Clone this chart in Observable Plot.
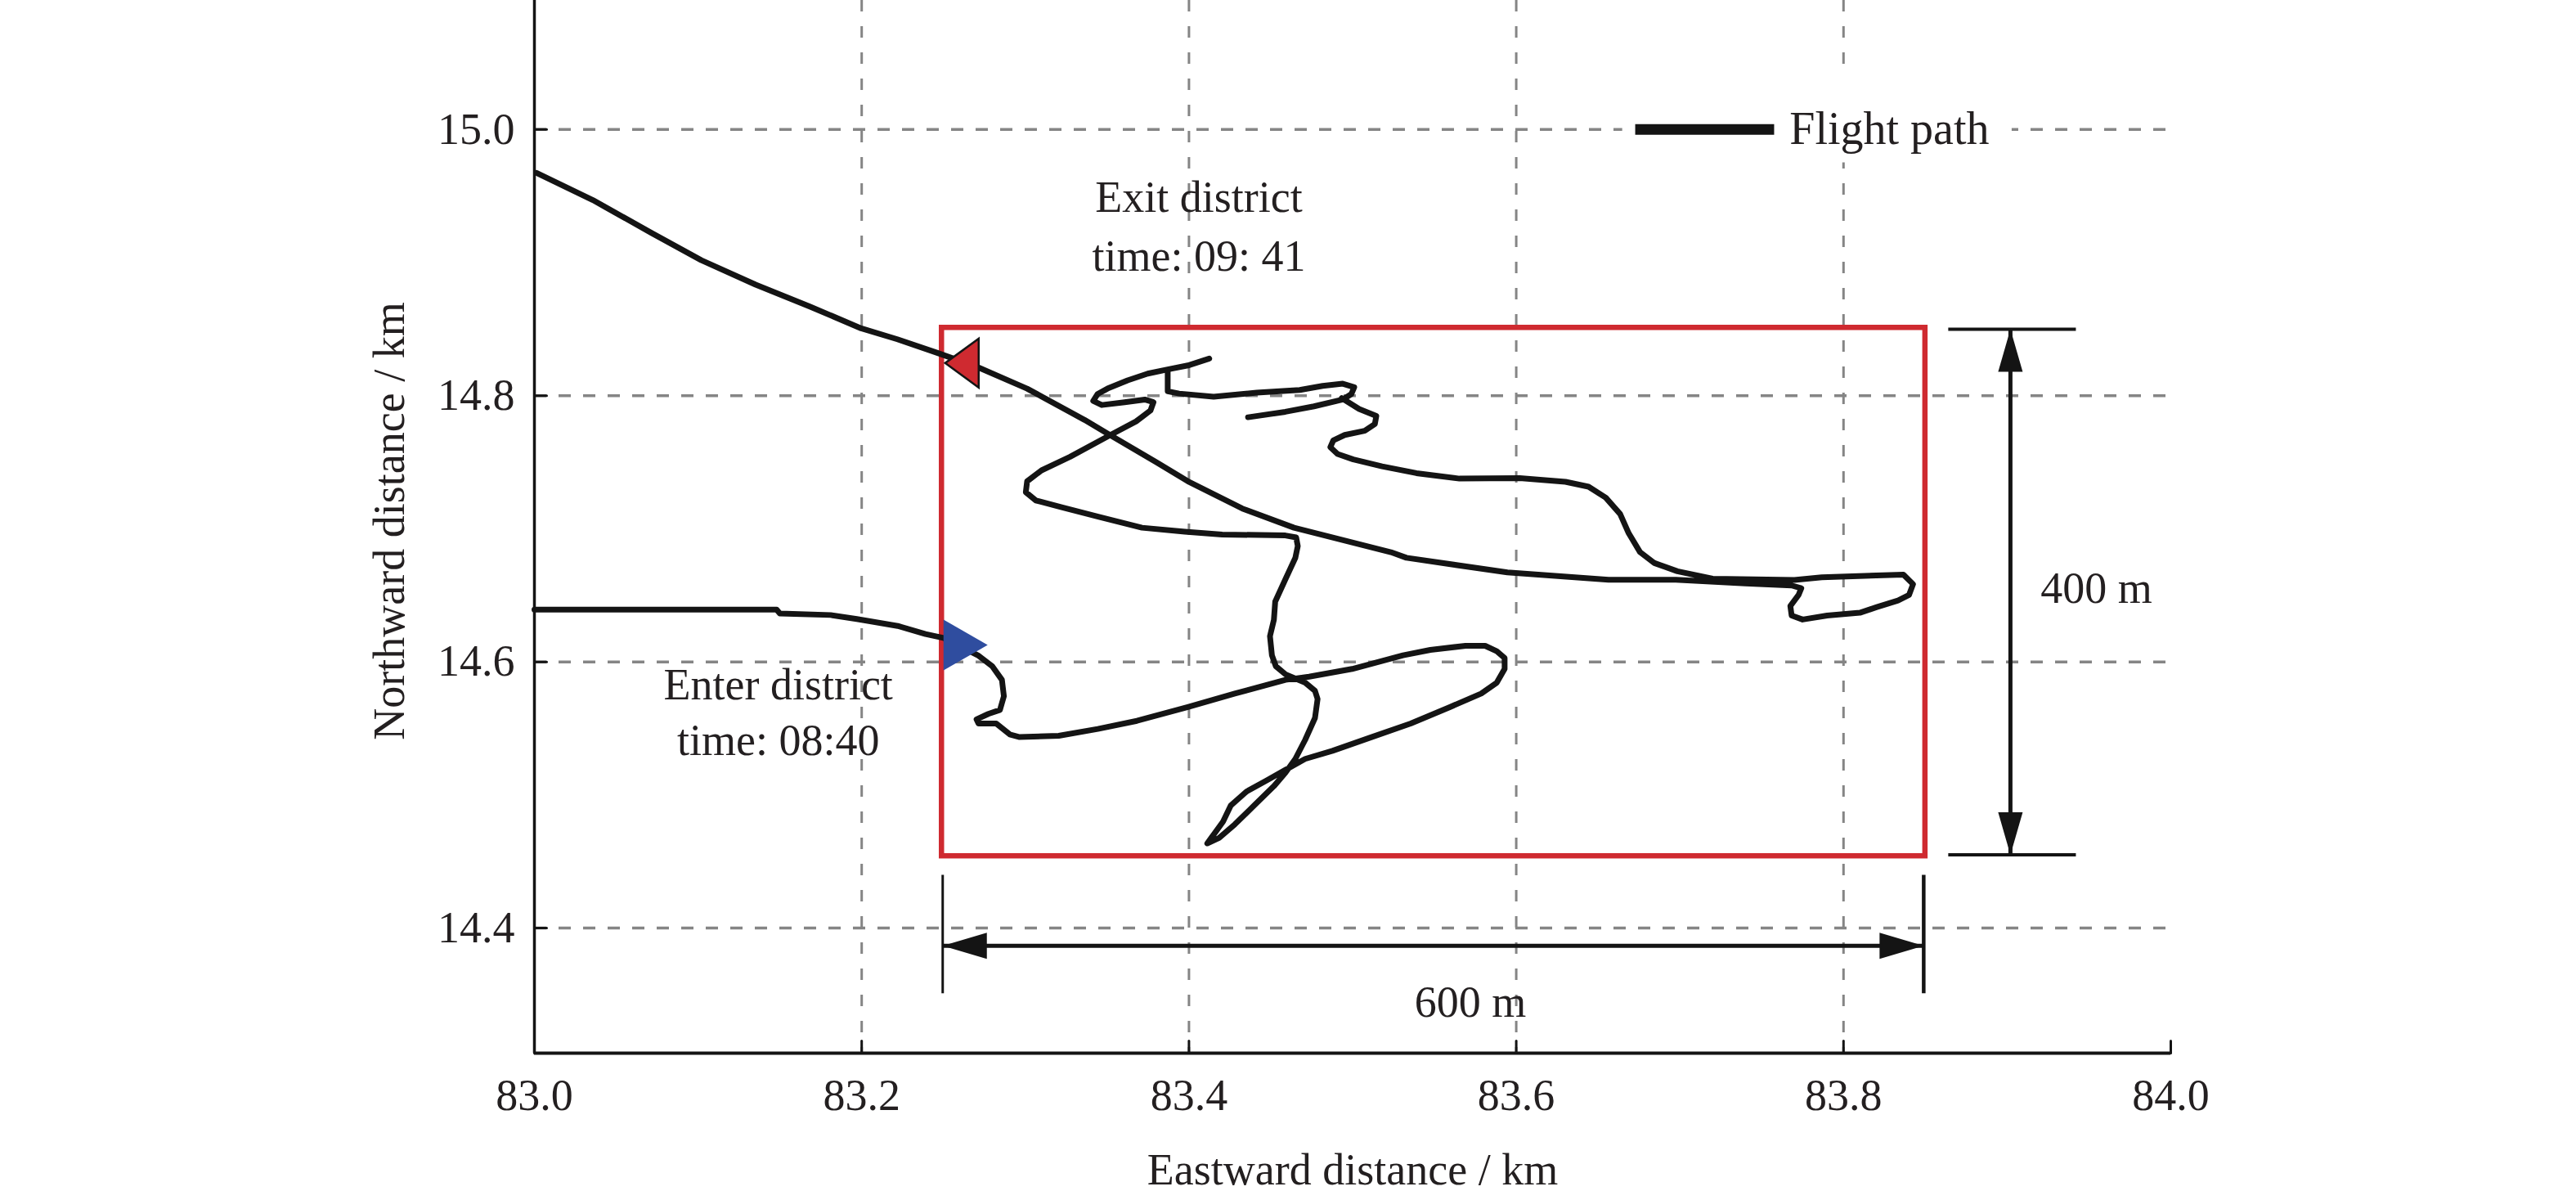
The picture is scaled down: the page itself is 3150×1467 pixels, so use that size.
<!DOCTYPE html>
<html>
<head>
<meta charset="utf-8">
<script src="https://cdn.jsdelivr.net/npm/d3@7"></script>
<script src="https://cdn.jsdelivr.net/npm/@observablehq/plot@0.6"></script>
<style>
  html, body { margin: 0; padding: 0; background: #fff; }
  #chart { width: 3150px; height: 1467px; }
</style>
</head>
<body>
<div id="chart"></div>
<script>
// ---- axes ----
const xDomain = [83.0, 84.0];
const yDomain = [14.306, 15.097];
const xTicks = [83.0, 83.2, 83.4, 83.6, 83.8, 84.0];
const yTicks = [14.4, 14.6, 14.8, 15.0];
const xGrid = [83.2, 83.4, 83.6, 83.8];
const xLabel = "Eastward distance / km";
const yLabel = "Northward distance / km";

// ---- flight path (km east, km north) ----
const pathEnter = [
  [83.000,14.6393],[83.148,14.6393],[83.150,14.6363],[83.181,14.6352],[83.197,14.6322],
  [83.222,14.6270],[83.239,14.6209],[83.250,14.6180],[83.271,14.6050],[83.2798,14.5967],
  [83.2857,14.5865],[83.2869,14.5742],[83.2845,14.5639],[83.2774,14.5609],[83.2702,14.5568],
  [83.2714,14.5537],[83.2822,14.5537],[83.2905,14.5455],[83.2965,14.5435],[83.3204,14.5445],
  [83.3443,14.5496],[83.3682,14.5557],[83.3993,14.5660],[83.4280,14.5762],[83.4590,14.5865],
  [83.4734,14.5889],[83.4997,14.5947],[83.5308,14.6049],[83.5475,14.6090],[83.5690,14.6121],
  [83.5810,14.6121],[83.5881,14.6080],[83.5929,14.6029],[83.5929,14.5947],[83.5881,14.5844],
  [83.5786,14.5762],[83.5594,14.5660],[83.5355,14.5537],[83.5116,14.5435],[83.4877,14.5332],
  [83.4710,14.5271],[83.4590,14.5189],[83.4471,14.5107],[83.4351,14.5025],[83.4256,14.4922],
  [83.4208,14.4799],[83.4136,14.4677],[83.4112,14.4636],[83.4184,14.4677],[83.4280,14.4779],
  [83.4399,14.4922],[83.4519,14.5066],[83.4590,14.5168],[83.4650,14.5271],[83.4710,14.5414],
  [83.4770,14.5578],[83.4786,14.5721],[83.4770,14.5783],[83.4710,14.5844],[83.4590,14.5906],
  [83.4531,14.5967],[83.4507,14.6049],[83.4495,14.6193],[83.4519,14.6316],[83.4527,14.6453],
  [83.4588,14.6617],[83.4650,14.6782],[83.4665,14.6870],[83.4655,14.6935],[83.4589,14.6950],
  [83.4203,14.6957],[83.3975,14.6978],[83.3713,14.7008],[83.3450,14.7090],[83.3222,14.7162],
  [83.3064,14.7213],[83.3003,14.7275],[83.3011,14.7357],[83.3099,14.7439],[83.3274,14.7541],
  [83.3520,14.7705],[83.3677,14.7807],[83.3765,14.7889],[83.3783,14.7951],[83.3730,14.7971],
  [83.3607,14.7951],[83.3467,14.7930],[83.3415,14.7961],[83.3441,14.8012],[83.3502,14.8053],
  [83.3625,14.8115],[83.3748,14.8166],[83.3870,14.8197],[83.3993,14.8227],[83.4124,14.8279]
];
const pathBranch = [
  [83.3870,14.8190],[83.3870,14.8033],[83.3940,14.8016],[83.4151,14.7992],[83.4414,14.8023],
  [83.4677,14.8043],[83.4817,14.8074],[83.4940,14.8090],[83.5010,14.8064],[83.4992,14.8012],
  [83.4940,14.7971],[83.4764,14.7920],[83.4589,14.7879],[83.4361,14.7838]
];
const pathExit = [
  [83.4934,14.7982],[83.5040,14.7900],[83.5145,14.7848],[83.5136,14.7787],[83.5074,14.7736],
  [83.4952,14.7705],[83.4882,14.7664],[83.4864,14.7613],[83.4908,14.7562],[83.5004,14.7521],
  [83.5180,14.7469],[83.5390,14.7418],[83.5653,14.7377],[83.6021,14.7381],[83.6301,14.7353],
  [83.6442,14.7316],[83.6547,14.7234],[83.6635,14.7111],[83.6687,14.6967],[83.6757,14.6824],
  [83.6845,14.6742],[83.6985,14.6681],[83.7200,14.6625],[83.7700,14.6615],[83.7867,14.6635],
  [83.8366,14.6656],[83.8425,14.6584],[83.8400,14.6502],[83.8333,14.6461],[83.8200,14.6410],
  [83.8100,14.6369],[83.7900,14.6348],[83.7750,14.6318],[83.7683,14.6348],[83.7675,14.6420],
  [83.7725,14.6502],[83.7742,14.6553],[83.7683,14.6574],[83.7400,14.6590],[83.6975,14.6617],
  [83.6564,14.6617],[83.5946,14.6672],[83.5329,14.6782],[83.5234,14.6824],[83.4642,14.7008],
  [83.4326,14.7152],[83.3993,14.7357],[83.3800,14.7500],[83.3502,14.7715],[83.3362,14.7818],
  [83.3011,14.8053],[83.2705,14.8217],[83.2462,14.8322],[83.2218,14.8424],[83.1997,14.8506],
  [83.1683,14.8670],[83.1352,14.8834],[83.1020,14.9018],[83.0714,14.9224],[83.0357,14.9470],
  [83.0013,14.9674]
];

// ---- district box and markers ----
const districtBox = [{x1: 83.249, x2: 83.850, y1: 14.454, y2: 14.851}];
const enterMarker = [{x: 83.250, y: 14.6127}];
const exitMarker = [{x: 83.251, y: 14.8245}];

// ---- dimension annotations ----
const dimHeight = [{x: 83.902, y1: 14.850, y2: 14.455, tx1: 83.864, tx2: 83.942}];
const dimWidth = [{y: 14.3866, x1: 83.2495, x2: 83.849, ty1: 14.440, ty2: 14.351}];

// ---- texts ----
const exitNote = [{x: 83.406, y: 14.9300, label: "Exit district\ntime: 09: 41"}];
const enterNote = [{x: 83.149, y: 14.5643, label: "Enter district\ntime: 08:40"}];
const sizeNotes = [
  {x: 83.9545, y: 14.655, label: "400 m"},
  {x: 83.572, y: 14.3442, label: "600 m"}
];
const legend = [{x1: 83.6727, x2: 83.7576, tx: 83.767, y: 15.0, label: "Flight path",
                 bx1: 83.665, bx2: 83.903, by1: 14.975, by2: 15.038}];

// ---- build tables ----
const flight = [
  ...pathEnter.map(([x, y]) => ({x, y, seg: "enter"})),
  ...pathBranch.map(([x, y]) => ({x, y, seg: "branch"})),
  ...pathExit.map(([x, y]) => ({x, y, seg: "exit"}))
];

// ---- custom shapes ----
const tickShape = {draw(ctx, l) { ctx.moveTo(0, 0); ctx.lineTo(0, -l); }};
function triRight(w, h) {
  return {draw(ctx) { ctx.moveTo(0, -h / 2); ctx.lineTo(w, 0); ctx.lineTo(0, h / 2); ctx.closePath(); }};
}
function triLeftTip(w, h) {
  return {draw(ctx) { ctx.moveTo(0, 0); ctx.lineTo(w, -h / 2); ctx.lineTo(w, h / 2); ctx.closePath(); }};
}
function head(dir, len, wid) {
  const p = {
    up: [[0, 0], [wid / 2, len], [-wid / 2, len]],
    down: [[0, 0], [wid / 2, -len], [-wid / 2, -len]],
    left: [[0, 0], [len, -wid / 2], [len, wid / 2]],
    right: [[0, 0], [-len, -wid / 2], [-len, wid / 2]]
  }[dir];
  return {draw(ctx) { ctx.moveTo(...p[0]); ctx.lineTo(...p[1]); ctx.lineTo(...p[2]); ctx.closePath(); }};
}

const ink = "#141414";
const grey = "#858585";
const red = "#cf2a30";
const blue = "#2f4d9f";
const fmt = d => d.toFixed(1);

const chart = Plot.plot({
  width: 3150,
  height: 1467,
  marginLeft: 653,
  marginRight: 496,
  marginTop: 0,
  marginBottom: 180,
  x: {domain: xDomain},
  y: {domain: yDomain},
  style: {fontFamily: "'Liberation Serif', 'Times New Roman', serif", fontSize: "54px", color: "#231f20", background: "#fff"},
  marks: [
    // grid
    Plot.ruleY(yTicks, {x1: xDomain[0], x2: xDomain[1], stroke: grey, strokeWidth: 3.5, strokeDasharray: "15,15"}),
    Plot.ruleX(xGrid, {stroke: grey, strokeWidth: 3, strokeDasharray: "14,18"}),
    // legend background
    Plot.rect(legend, {x1: "bx1", x2: "bx2", y1: "by1", y2: "by2", fill: "#fff"}),
    // district box
    Plot.rect(districtBox, {x1: "x1", x2: "x2", y1: "y1", y2: "y2", fill: "none", stroke: red, strokeWidth: 6.5}),
    // flight path
    Plot.line(flight, {x: "x", y: "y", z: "seg", stroke: ink, strokeWidth: 7, strokeLinejoin: "round", strokeLinecap: "round"}),
    // enter / exit markers
    Plot.dot(enterMarker, {x: "x", y: "y", symbol: triRight(54, 62), fill: blue, stroke: "none"}),
    Plot.dot(exitMarker, {x: "x", y: "y", symbol: triLeftTip(41, 60), fill: red, stroke: ink, strokeWidth: 2.5}),
    // 400 m dimension
    Plot.link(dimHeight, {x1: "tx1", x2: "tx2", y1: "y1", y2: "y1", stroke: ink, strokeWidth: 4}),
    Plot.link(dimHeight, {x1: "tx1", x2: "tx2", y1: "y2", y2: "y2", stroke: ink, strokeWidth: 4}),
    Plot.link(dimHeight, {x1: "x", x2: "x", y1: "y1", y2: "y2", stroke: ink, strokeWidth: 5}),
    Plot.dot(dimHeight, {x: "x", y: "y1", symbol: head("up", 52, 30), fill: ink, stroke: "none"}),
    Plot.dot(dimHeight, {x: "x", y: "y2", symbol: head("down", 52, 30), fill: ink, stroke: "none"}),
    // 600 m dimension
    Plot.link(dimWidth, {x1: "x1", x2: "x1", y1: "ty1", y2: "ty2", stroke: ink, strokeWidth: 3}),
    Plot.link(dimWidth, {x1: "x2", x2: "x2", y1: "ty1", y2: "ty2", stroke: ink, strokeWidth: 4.5}),
    Plot.link(dimWidth, {x1: "x1", x2: "x2", y1: "y", y2: "y", stroke: ink, strokeWidth: 5}),
    Plot.dot(dimWidth, {x: "x1", y: "y", symbol: head("left", 54, 32), fill: ink, stroke: "none"}),
    Plot.dot(dimWidth, {x: "x2", y: "y", symbol: head("right", 54, 32), fill: ink, stroke: "none"}),
    // legend
    Plot.link(legend, {x1: "x1", x2: "x2", y1: "y", y2: "y", stroke: ink, strokeWidth: 13}),
    Plot.text(legend, {x: "tx", y: "y", text: "label", textAnchor: "start", fontSize: 56}),
    // annotations
    Plot.text(exitNote, {x: "x", y: "y", text: "label", fontSize: 54, lineHeight: 1.333, lineAnchor: "middle"}),
    Plot.text(enterNote, {x: "x", y: "y", text: "label", fontSize: 54, lineHeight: 1.26, lineAnchor: "middle"}),
    Plot.text(sizeNotes, {x: "x", y: "y", text: "label", fontSize: 54, lineAnchor: "middle"}),
    // axes lines
    Plot.ruleX([xDomain[0]], {stroke: ink, strokeWidth: 3.5}),
    Plot.ruleY([yDomain[0]], {x1: xDomain[0], x2: xDomain[1], stroke: ink, strokeWidth: 4}),
    // inward ticks
    Plot.vector(xTicks, {x: d => d, y: yDomain[0], length: 15, anchor: "start", shape: tickShape, stroke: ink, strokeWidth: 3, fill: "none"}),
    Plot.vector(yTicks, {x: xDomain[0], y: d => d, length: 15, rotate: 90, anchor: "start", shape: tickShape, stroke: ink, strokeWidth: 3, fill: "none"}),
    // tick labels
    Plot.axisX(xTicks, {tickSize: 0, tickPadding: 31, tickFormat: fmt, fontSize: 54, label: null}),
    Plot.axisY(yTicks, {tickSize: 0, tickPadding: 24, tickFormat: fmt, fontSize: 54, label: null}),
    // axis titles
    Plot.text([xLabel], {text: d => d, frameAnchor: "bottom", dy: 143, fontSize: 54, textAnchor: "middle", lineAnchor: "middle"}),
    Plot.text([yLabel], {text: d => d, frameAnchor: "left", rotate: -90, dx: -177, dy: -7, fontSize: 54, textAnchor: "middle", lineAnchor: "middle"})
  ]
});
document.getElementById("chart").appendChild(chart);
</script>
</body>
</html>
